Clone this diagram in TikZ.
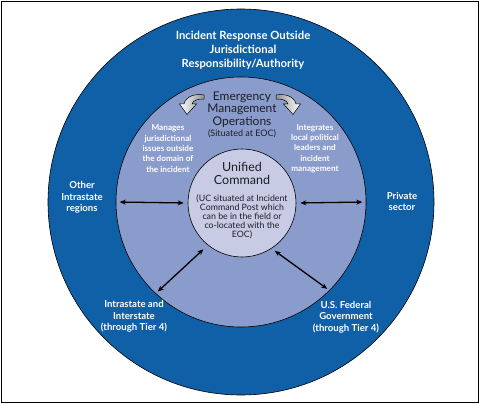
\documentclass[tikz,border=0pt]{standalone}
\usepackage{fontspec}
\setmainfont{Lato}
\usetikzlibrary{arrows.meta}
\definecolor{outerblue}{RGB}{16,96,168}
\definecolor{midblue}{RGB}{138,156,203}
\definecolor{innerblue}{RGB}{199,204,228}
\definecolor{darktext}{RGB}{30,30,40}
\tikzset{
  ring/.style={circle, draw=black, line width=0.6pt, inner sep=0pt},
  whitebig/.style={text=white, font=\fontsize{11.3}{14}\selectfont\bfseries, align=center, inner sep=0pt},
  whitemid/.style={text=white, font=\fontsize{9.6}{11.5}\selectfont\bfseries, align=center, inner sep=0pt},
  whitesmall/.style={text=white, font=\fontsize{8.2}{10.3}\selectfont\bfseries, align=center, inner sep=0pt},
  darkbig/.style={text=darktext, font=\fontsize{12}{12.6}\selectfont, align=center, inner sep=0pt},
  darksmall/.style={text=darktext, font=\fontsize{8.8}{9}\selectfont, align=center, inner sep=0pt},
  link/.style={{Stealth[length=6pt,width=5pt]}-{Stealth[length=6pt,width=5pt]}, line width=1.3pt, black},
  curvy/.style={draw=black, line width=0.5pt, left color=white, right color=gray!85}
}
\begin{document}
\begin{tikzpicture}[x=1pt,y=-1pt]
\useasboundingbox (0,0) rectangle (480,404);
\draw[line width=1pt] (1.8,1.8) rectangle (478.2,402.2);
\node[ring, fill=outerblue, minimum size=386pt] (outer) at (241,202) {};
\node[ring, fill=midblue, minimum size=250pt] (mid) at (241,202) {};
\node[ring, fill=innerblue, minimum size=108pt] (inner) at (242,203) {};
% texts
\node[whitebig] (title) at (243,50) {Incident Response Outside\\Jurisdictional\\Responsibility/Authority};
\node[darkbig] (emo) at (242,109.5) {Emergency\\Management\\Operations};
\node[darksmall, font=\fontsize{9}{9}\selectfont] (eoc) at (242,134) {(Situated at EOC)};
\node[whitesmall] (manages) at (168,148.5) {Manages\\jurisdictional\\issues outside\\the domain of\\the incident};
\node[whitesmall] (integrates) at (315,148.5) {Integrates\\local political\\leaders and\\incident\\management};
\node[darkbig, font=\fontsize{12.5}{13}\selectfont] (uc) at (242,173.5) {Unified\\Command};
\node[darksmall] (ucnote) at (242,217) {(UC situated at Incident\\Command Post which\\can be in the field or\\co-located with the\\EOC)};
\node[whitemid] (other) at (82,197.5) {Other\\Intrastate\\regions};
\node[whitemid] (private) at (402,201.5) {Private\\sector};
\node[whitemid] (intra) at (134,316.5) {Intrastate and\\Interstate\\(through Tier 4)};
\node[whitemid] (federal) at (346,317) {U.S. Federal\\Government\\(through Tier 4)};
% arrows
\draw[link, shorten <=4pt, shorten >=4pt] (mid.west) -- (inner.west);
\draw[link, shorten <=4pt, shorten >=4pt] (mid.east) -- (inner.east);
\draw[link, shorten <=6pt, shorten >=3pt] (inner.231) -- (mid.227);
\draw[link, shorten <=4pt, shorten >=3pt] (inner.-57) -- (mid.-45);
% curved arrows
\path[curvy] (204,95) .. controls (195,93.5) and (186,96) .. (184,104) -- (179.5,104) -- (187,114.5) -- (196.5,104) -- (192,104) .. controls (193,100) and (198,99) .. (204,99) -- cycle;
\begin{scope}[xshift=480pt, xscale=-1]
\path[curvy, left color=gray!85, right color=white] (204,95) .. controls (195,93.5) and (186,96) .. (184,104) -- (179.5,104) -- (187,114.5) -- (196.5,104) -- (192,104) .. controls (193,100) and (198,99) .. (204,99) -- cycle;
\end{scope}
\end{tikzpicture}
\end{document}
